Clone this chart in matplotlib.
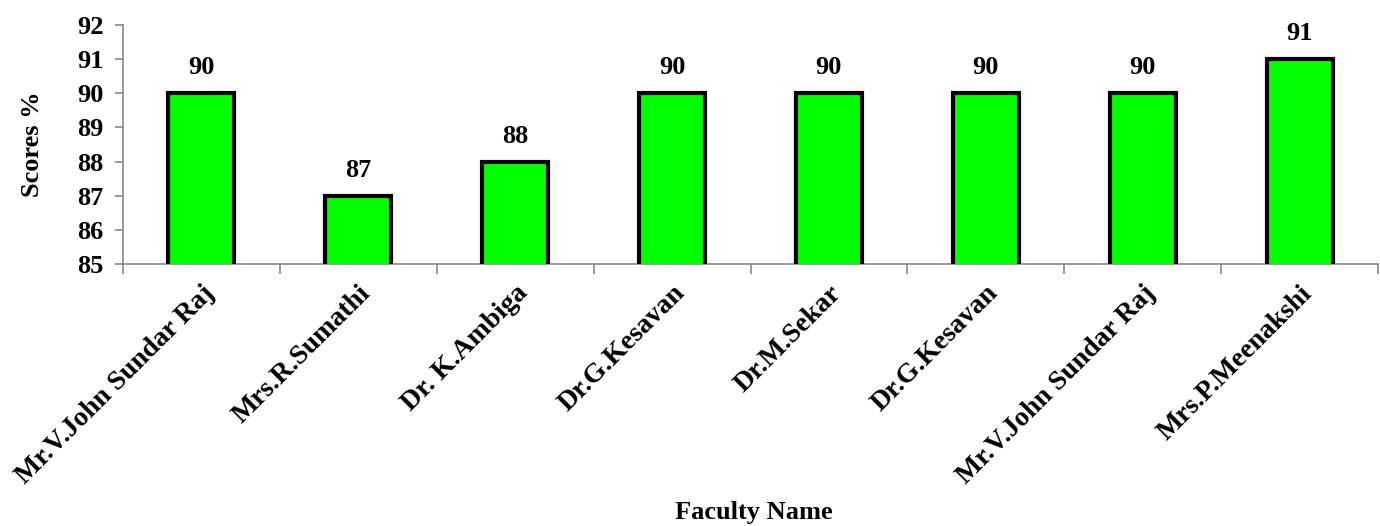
import matplotlib
matplotlib.use("Agg")
import matplotlib.pyplot as plt
import numpy as np

names = ["Mr.V.John Sundar Raj", "Mrs.R.Sumathi", "Dr. K.Ambiga", "Dr.G.Kesavan",
         "Dr.M.Sekar", "Dr.G.Kesavan", "Mr.V.John Sundar Raj", "Mrs.P.Meenakshi"]
scores = [90, 87, 88, 90, 90, 90, 90, 91]
yticks = [85, 86, 87, 88, 89, 90, 91, 92]

plt.rcParams['font.family'] = ['Liberation Serif', 'DejaVu Serif']
plt.rcParams['font.weight'] = 'bold'
FS = 19

fig = plt.figure(figsize=(13.8, 5.26), dpi=100)
ax = fig.add_axes([123/1380, 1-264/526, (1378-123)/1380, (264-25)/526])

x = np.arange(len(names))
bars = ax.bar(x, scores, width=0.42, color='#00FF00', edgecolor='black', linewidth=3,
              bottom=0, zorder=3)
ax.set_ylim(85, 92)
ax.set_xlim(-0.5, len(names)-0.5)
ax.set_yticks(yticks)
ax.set_yticklabels([str(v) for v in yticks], fontsize=FS, fontweight='bold')

for xi, v in zip(x, scores):
    ax.annotate(str(v), (xi, v), xytext=(0, 10), textcoords='offset points',
                ha='center', va='bottom', fontsize=FS, fontweight='bold')

ax.set_xticks(x)
ax.set_xticklabels(names, rotation=45, ha='right', va='top', rotation_mode='anchor',
                   fontsize=20, fontweight='bold')
ax.tick_params(axis='x', which='major', length=0, pad=12)
ax.set_xticks(np.arange(-0.5, len(names), 1), minor=True)
ax.tick_params(axis='x', which='minor', length=7, color='#888888', width=1.2)
ax.tick_params(axis='y', length=6, color='#888888', width=1.2, pad=8)

for s in ['top', 'right']:
    ax.spines[s].set_visible(False)
for s in ['left', 'bottom']:
    ax.spines[s].set_color('#888888')
    ax.spines[s].set_linewidth(1.2)

ax.set_ylabel("Scores %", fontsize=FS, fontweight='bold', labelpad=24)
fig.text(754/1380, 1-513/526, "Faculty Name", ha='center', va='center',
         fontsize=FS, fontweight='bold')

fig.savefig("out.png", dpi=100)
